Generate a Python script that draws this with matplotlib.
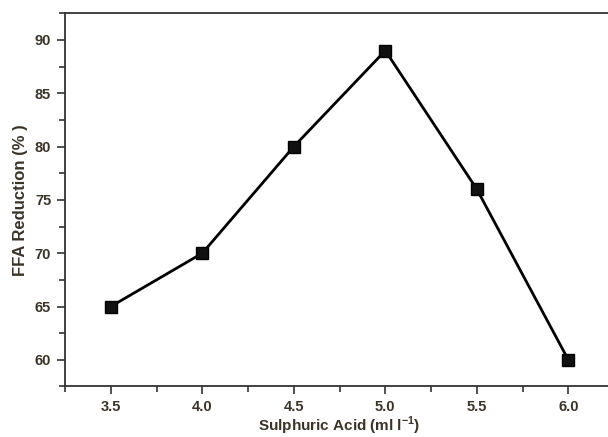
import matplotlib
matplotlib.use('Agg')
import matplotlib.pyplot as plt
from matplotlib.ticker import MultipleLocator, FormatStrFormatter

# Data
acid = [3.5, 4.0, 4.5, 5.0, 5.5, 6.0]
ffa_reduction = [65, 70, 80, 89, 76, 60]

plt.rcParams['font.family'] = ['Liberation Sans', 'DejaVu Sans']
plt.rcParams['mathtext.fontset'] = 'custom'
plt.rcParams['mathtext.bf'] = 'Liberation Sans:bold'
plt.rcParams['mathtext.rm'] = 'Liberation Sans:bold'

fig = plt.figure(figsize=(6.08, 4.37), dpi=100)
ax = fig.add_axes([0.107, 0.1156, 0.903, 0.854])

ax.plot(acid, ffa_reduction, color='black', linewidth=2.0,
        marker='s', markersize=8, markerfacecolor='#111111', markeredgecolor='black')

ax.set_xlim(3.25, 6.25)
ax.set_ylim(57.5, 92.5)
ax.xaxis.set_major_locator(MultipleLocator(0.5))
ax.xaxis.set_minor_locator(MultipleLocator(0.25))
ax.yaxis.set_major_locator(MultipleLocator(5))
ax.yaxis.set_minor_locator(MultipleLocator(2.5))
ax.xaxis.set_major_formatter(FormatStrFormatter('%.1f'))

ax.tick_params(which='both', direction='out', colors='#333333', width=1.2)
ax.tick_params(which='major', length=6, labelsize=10.5, pad=4)
ax.tick_params(which='minor', length=4)
for lbl in ax.get_xticklabels() + ax.get_yticklabels():
    lbl.set_fontweight('bold')
    lbl.set_color('#3a3328')

for s in ax.spines.values():
    s.set_linewidth(1.3)
    s.set_color('#333333')

ax.set_xlabel('Sulphuric Acid (ml l$^{-1}$)', fontsize=11, fontweight='bold',
              color='#3a3328', labelpad=0)
ax.set_ylabel('FFA Reduction (% )', fontsize=12, fontweight='bold',
              color='#3a3328', labelpad=5)

fig.savefig('out.png', dpi=100)
